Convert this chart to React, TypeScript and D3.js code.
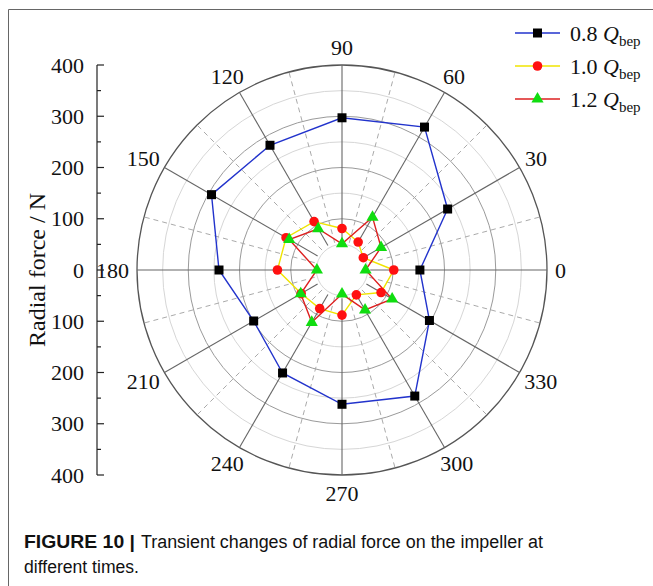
import React from 'react';
import * as d3 from 'd3';

// polar angles (deg, counter-clockwise from 0 at the right)
const angles = [0, 30, 60, 90, 120, 150, 180, 210, 240, 270, 300, 330];
const q08 = [152, 238, 322, 297, 281, 294, 240, 199, 232, 262, 284, 197];
const q10 = [101, 48, 63, 81, 109, 126, 126, 92, 87, 88, 56, 88];
const q12 = [46, 88, 119, 51, 93, 119, 49, 93, 118, 47, 90, 113];
const seriesNames = ['0.8', '1.0', '1.2'];

const W = 653;
const H = 586;
const cx = 342;
const cy = 270;
const R = 205;
const serif = '"Liberation Serif", "Times New Roman", serif';
const sans = '"Liberation Sans", Arial, sans-serif';

const App: React.FC = () => {
  const r = d3.scaleLinear().domain([0, 400]).range([0, R]);
  const yAxis = d3.scaleLinear().domain([-400, 400]).range([cy + R, cy - R]);
  const rad = (deg: number) => (deg * Math.PI) / 180;
  const px = (deg: number, v: number) => cx + r(v) * Math.cos(rad(deg));
  const py = (deg: number, v: number) => cy - r(v) * Math.sin(rad(deg));

  const line = d3.lineRadial<[number, number]>()
    .angle(d => Math.PI / 2 - rad(d[0]))
    .radius(d => r(d[1]))
    .curve(d3.curveLinearClosed);
  const pts = (vals: number[]) => angles.map((a, i) => [a, vals[i]] as [number, number]);

  const circles = d3.range(50, 401, 50);
  const dashed = angles.map(a => a + 15);
  const triangle = d3.symbol(d3.symbolTriangle, 64)();
  const tickVals = d3.range(-400, 401, 50);

  const legendY = [33, 66, 99];
  const legendColors = ['#2233cc', '#f0e400', '#dd2020'];

  return (
    <svg width={W} height={H} style={{ position: 'absolute', left: 0, top: 0, background: '#fff' }}>
      {/* frame */}
      <path d={`M8.5,${H} V9.5 H${W}`} fill="none" stroke="#666" strokeWidth={1} />

      {/* grid circles */}
      {circles.map(v => (
        <circle key={v} cx={cx} cy={cy} r={r(v)} fill="none"
          stroke={v === 400 ? '#555' : v % 100 === 0 ? '#9a9a9a' : '#d6d6d6'}
          strokeWidth={v === 400 ? 1.3 : 1} />
      ))}
      {/* dashed spokes */}
      {dashed.map(a => (
        <line key={'d' + a} x1={px(a, 55)} y1={py(a, 55)} x2={px(a, 400)} y2={py(a, 400)}
          stroke="#aaa" strokeWidth={1} strokeDasharray="5,4" />
      ))}
      {/* solid spokes */}
      {angles.map(a => (
        <line key={'s' + a} x1={px(a, 55)} y1={py(a, 55)} x2={px(a, 400)} y2={py(a, 400)}
          stroke="#666" strokeWidth={1.1} />
      ))}
      {/* angle labels */}
      {angles.map(a => {
        const label = String(a);
        const w = label.length * 11;
        const c = Math.cos(rad(a));
        const s = Math.sin(rad(a));
        return (
          <text key={'l' + a} x={cx + (R + 6) * c + (w / 2 + 2) * c} y={cy - (R + 8) * s - 10 * s}
            textAnchor="middle" dominantBaseline="central" fontFamily={serif} fontSize={22} fill="#111">
            {label}
          </text>
        );
      })}

      {/* radial axis on the left */}
      <line x1={97} x2={97} y1={yAxis(400)} y2={yAxis(-400)} stroke="#222" strokeWidth={1.2} />
      {tickVals.map(v => (
        <line key={'t' + v} x1={97} x2={v % 100 === 0 ? 104 : 101} y1={yAxis(v)} y2={yAxis(v)}
          stroke="#222" strokeWidth={1.2} />
      ))}
      {tickVals.filter(v => v % 100 === 0).map(v => (
        <text key={'tl' + v} x={84} y={yAxis(v)} textAnchor="end" dominantBaseline="central"
          fontFamily={serif} fontSize={22} fill="#111">
          {Math.abs(v)}
        </text>
      ))}
      <text transform={`translate(37,${cy}) rotate(-90)`} textAnchor="middle" dominantBaseline="central"
        fontFamily={serif} fontSize={24} fill="#111">
        Radial force / N
      </text>

      {/* series */}
      <g transform={`translate(${cx},${cy})`}>
        <path d={line(pts(q08)) || ''} fill="none" stroke="#2233cc" strokeWidth={1.4} />
        <path d={line(pts(q10)) || ''} fill="none" stroke="#f0e400" strokeWidth={1.4} />
        <path d={line(pts(q12)) || ''} fill="none" stroke="#dd2020" strokeWidth={1.4} />
      </g>
      {angles.map((a, i) => (
        <rect key={'b' + a} x={px(a, q08[i]) - 4.5} y={py(a, q08[i]) - 4.5} width={9} height={9} fill="#000" />
      ))}
      {angles.map((a, i) => (
        <circle key={'c' + a} cx={px(a, q10[i])} cy={py(a, q10[i])} r={4.8} fill="#ff1010" />
      ))}
      {angles.map((a, i) => (
        <path key={'g' + a} d={triangle || ''} transform={`translate(${px(a, q12[i])},${py(a, q12[i])})`}
          fill="#10dd10" />
      ))}

      {/* legend */}
      {seriesNames.map((n, i) => (
        <g key={'lg' + n}>
          <line x1={515} x2={560} y1={legendY[i]} y2={legendY[i]} stroke={legendColors[i]} strokeWidth={1.4} />
          {i === 0 && <rect x={533} y={legendY[i] - 4.5} width={9} height={9} fill="#000" />}
          {i === 1 && <circle cx={537.5} cy={legendY[i]} r={4.8} fill="#ff1010" />}
          {i === 2 && <path d={triangle || ''} transform={`translate(537.5,${legendY[i]})`} fill="#10dd10" />}
          <text x={570} y={legendY[i] + 8} fontFamily={serif} fontSize={22} fill="#111">
            {n + ' '}
            <tspan fontStyle="italic">Q</tspan>
            <tspan fontSize={15} dy={5}>bep</tspan>
          </text>
        </g>
      ))}

      {/* caption */}
      <text x={24} y={548} fontFamily={sans} fontSize={18} fontWeight="bold" fill="#111"
        textLength={111} lengthAdjust="spacingAndGlyphs">
        FIGURE 10 |
      </text>
      <text x={141} y={548} fontFamily={sans} fontSize={18} fill="#111"
        textLength={402} lengthAdjust="spacingAndGlyphs">
        Transient changes of radial force on the impeller at
      </text>
      <text x={24} y={573} fontFamily={sans} fontSize={18} fill="#111"
        textLength={115} lengthAdjust="spacingAndGlyphs">
        different times.
      </text>
    </svg>
  );
};

export default App;
